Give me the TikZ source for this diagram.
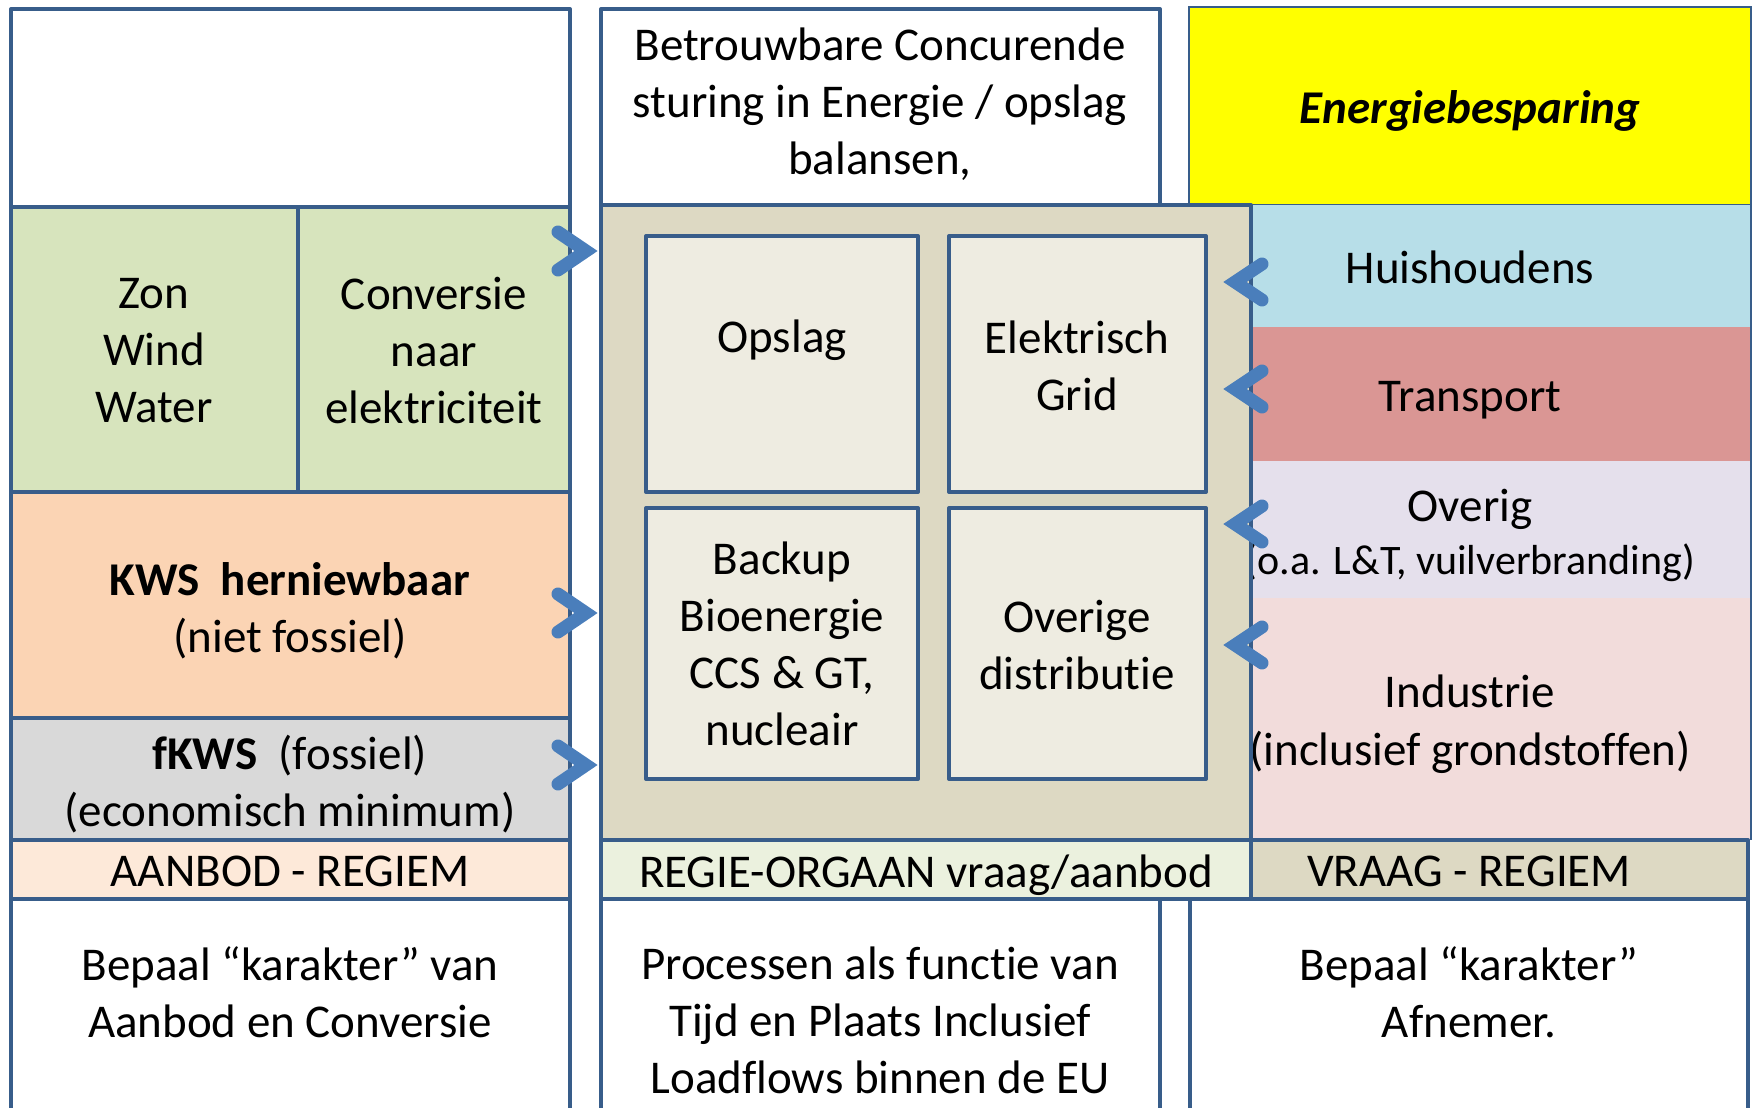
\documentclass[tikz,border=0pt]{standalone}
\usepackage{fontspec}
\setmainfont{Carlito}[Ligatures={NoCommon}]
\definecolor{bdr}{HTML}{385D8A}
\definecolor{arr}{HTML}{4A7EBB}
\definecolor{cgreen}{HTML}{D7E4BD}
\definecolor{corange}{HTML}{FBD4B4}
\definecolor{cgray}{HTML}{D9D9D9}
\definecolor{caanbod}{HTML}{FDE9D9}
\definecolor{ctan}{HTML}{DDD9C3}
\definecolor{cinner}{HTML}{EEECE1}
\definecolor{cregie}{HTML}{EBF1DE}
\definecolor{cyellow}{HTML}{FFFF00}
\definecolor{chuis}{HTML}{B7DEE8}
\definecolor{ctrans}{HTML}{DA9694}
\definecolor{coverig}{HTML}{E5E0EC}
\definecolor{cindus}{HTML}{F2DCDB}
\begin{document}
\begin{tikzpicture}[x=0.1mm,y=-0.1mm,
  bd/.style={draw=bdr,line width=0.4mm,line join=round},
  txt/.style={font=\fontsize{13.37}{16.2}\selectfont,align=center,inner sep=0pt,
    execute at begin node=\strut,execute at end node=\strut},
  line/.style={font=\fontsize{13.37}{16.2}\selectfont,inner sep=0pt,anchor=base},
  smallline/.style={font=\fontsize{11.95}{14.5}\selectfont,inner sep=0pt,anchor=base},
  chev/.style={draw=arr,line width=1.3mm,line cap=round,line join=miter}]
\useasboundingbox (0,0) rectangle (1752,1108);
\clip (0,0) rectangle (1752,1108);
% ---------- left column ----------
\fill[white] (11,9) rectangle (570,207);
\fill[cgreen] (11,207) rectangle (570,492);
\fill[corange] (11,492) rectangle (570,718);
\fill[cgray] (11,718) rectangle (570,840);
\fill[caanbod] (11,840) rectangle (570,899);
\draw[bd] (11,1200) -- (11,9) -- (570,9) -- (570,1200);
\draw[bd] (11,207) -- (570,207) (11,492) -- (570,492) (11,718) -- (570,718)
  (11,840) -- (570,840) (11,899) -- (570,899) (298,207) -- (298,492);
\node[txt] (zon) at (154,359) {Zon\\Wind\\Water};
\node[txt] (conv) at (434,359) {Conversie\\naar\\elektriciteit};
\node[txt] (kws) at (290,616) {\textbf{KWS\ \ herniewbaar}\\(niet fossiel)};
\node[txt] (fkws) at (290,789) {\textbf{fKWS}\ \ (fossiel)\\(economisch minimum)};
\node[txt] (aanbod) at (290,875) {AANBOD - REGIEM};
\node[txt] (bepaal1) at (290,1001) {Bepaal “karakter” van\\Aanbod en Conversie};
% ---------- middle column ----------
\draw[bd,fill=white] (601,9) rectangle (1160,207);
\node[txt] (betr) at (880,110) {Betrouwbare Concurende\\sturing in Energie / opslag\\balansen,};
\draw[bd] (601,1200) -- (601,899) -- (1160,899) -- (1160,1200);
\node[txt] (proc) at (880,1029) {Processen als functie van\\Tijd en Plaats Inclusief\\Loadflows binnen de EU};
% ---------- right column ----------
\draw[bd] (1190,1200) -- (1190,899) -- (1748,899) -- (1748,1200);
\node[txt] (bepaal2) at (1469,1001) {Bepaal “karakter”\\Afnemer.};
\draw[draw=bdr,line width=0.12mm,fill=cyellow] (1189,7) rectangle (1751,205);
\node[txt] (besp) at (1470,112) {\textbf{\textit{Energiebesparing}}};
\fill[chuis] (1253,205) rectangle (1751,327);
\fill[ctrans] (1253,327) rectangle (1751,461);
\fill[coverig] (1253,461) rectangle (1751,598);
\fill[cindus] (1253,598) rectangle (1751,840);
\draw[draw=bdr,line width=0.12mm] (1751,205) -- (1751,840);
\node[line] (huis) at (1470,284) {Huishoudens};
\node[line] (trans) at (1470,412) {Transport};
\node[line] (overig) at (1470,522) {Overig};
\node[smallline] (overig2) at (1470,575) {(o.a. L\&T, vuilverbranding)};
\node[line] (indus) at (1470,708) {Industrie};
\node[line] (indus2) at (1470,766) {(inclusief grondstoffen)};
% ---------- regie box ----------
\draw[bd,fill=ctan] (601,205) rectangle (1251,840);
\draw[bd,fill=cinner] (646,236) rectangle (918,492);
\draw[bd,fill=cinner] (949,236) rectangle (1206,492);
\draw[bd,fill=cinner] (646,508) rectangle (918,779);
\draw[bd,fill=cinner] (949,508) rectangle (1206,779);
\node[txt] (opslag) at (782,341) {Opslag};
\node[txt] (grid) at (1077,374) {Elektrisch\\Grid};
\node[txt] (backup) at (782,652) {Backup\\Bioenergie\\CCS \& GT,\\nucleair};
\node[txt] (distr) at (1077,653) {Overige\\distributie};
\draw[bd,fill=cregie] (601,840) rectangle (1251,899);
\node[txt] (regie) at (926,876) {REGIE-ORGAAN vraag/aanbod};
\draw[bd,fill=ctan] (1251,840) rectangle (1748,899);
\node[txt] (vraag) at (1469,875) {VRAAG - REGIEM};
% ---------- chevrons ----------
\foreach \y in {251,613,765}
  \draw[chev] (558,\y-19) -- (586,\y) -- (558,\y+19);
\foreach \y in {282,389,524,645}
  \draw[chev] (1262,\y-18) -- (1235,\y) -- (1262,\y+18);
\end{tikzpicture}
\end{document}
